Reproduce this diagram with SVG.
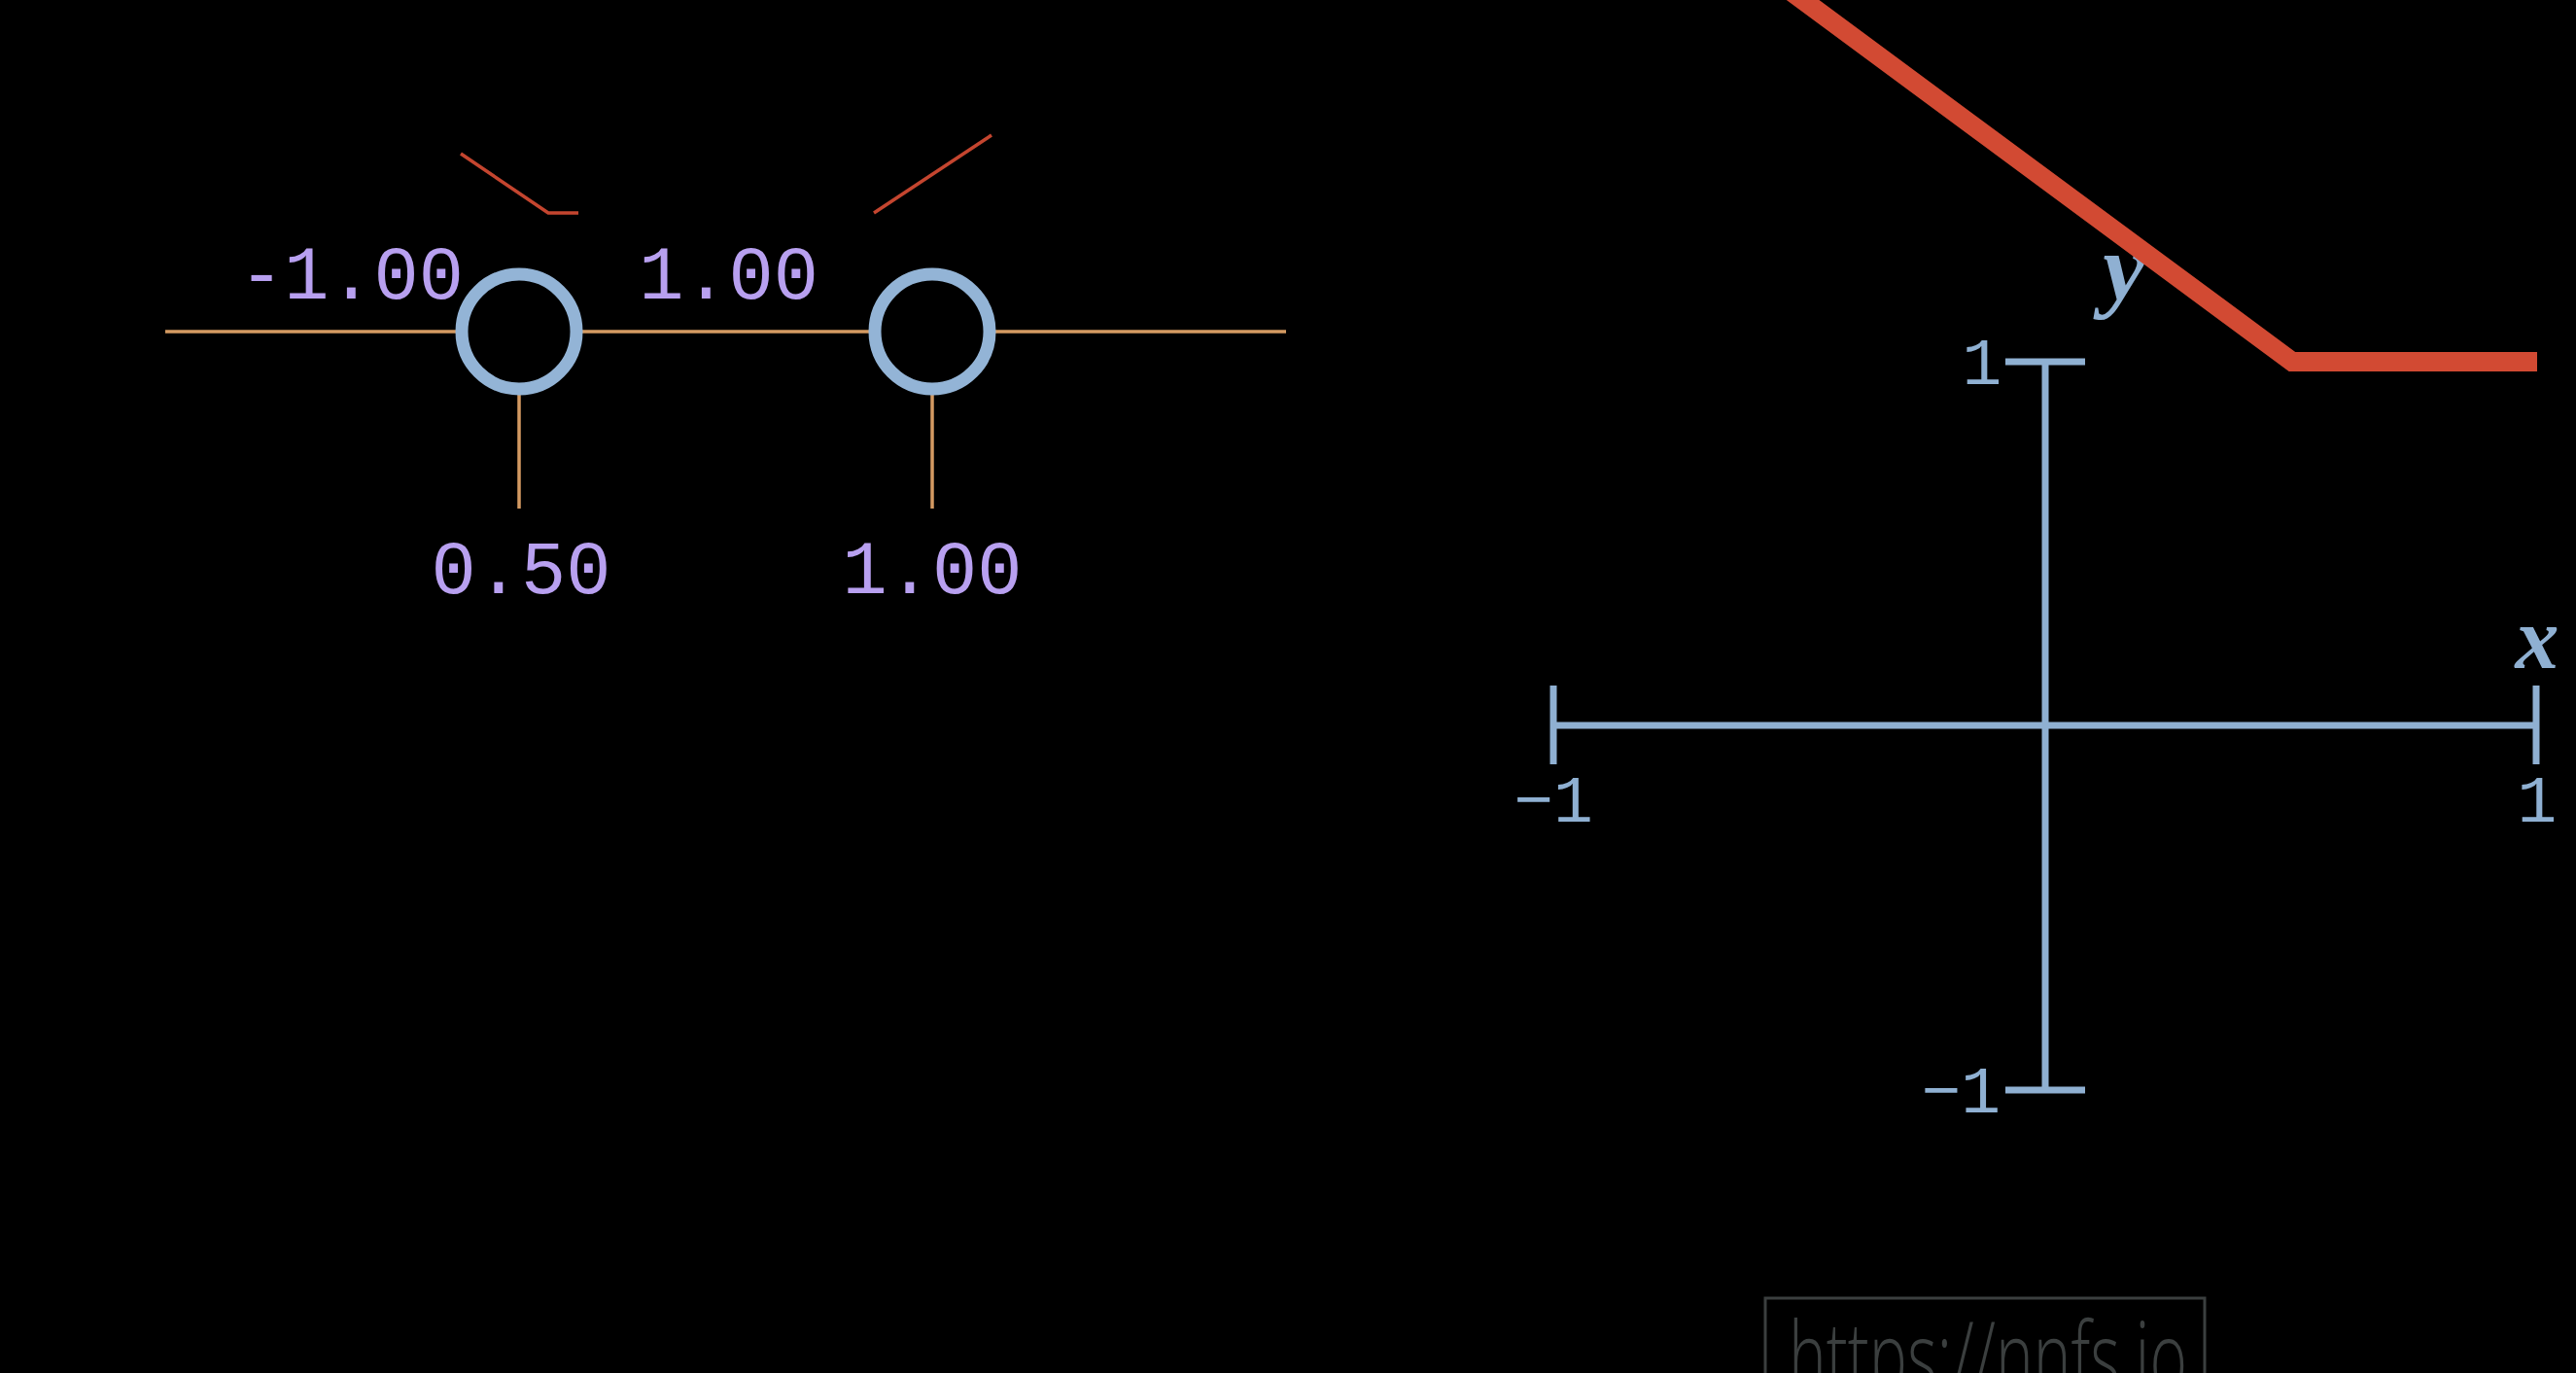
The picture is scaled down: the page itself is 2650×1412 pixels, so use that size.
<svg xmlns="http://www.w3.org/2000/svg" width="2650" height="1412" viewBox="0 0 2650 1412">
  <style>
    .wire { stroke: #d49a62; stroke-width: 3.5; fill: none; }
    .neuron { fill: #000; stroke: #93b4d6; stroke-width: 13; }
    .num { font-family: "Liberation Mono", "DejaVu Sans Mono", monospace; font-size: 77px; fill: #b8a0f0; }
    .mini { stroke: #c4452f; stroke-width: 3.5; fill: none; }
    .axis { stroke: #8fb0d2; stroke-width: 7; fill: none; }
    .tick { font-family: "Liberation Mono", "DejaVu Sans Mono", monospace; font-size: 68px; fill: #8fb0d2; }
    .var { font-family: "Liberation Serif", "DejaVu Serif", serif; font-style: italic; font-weight: bold; fill: #8fb0d2; }
  </style>
  <rect x="0" y="0" width="2650" height="1412" fill="#000"/>

  <g id="connectors">
    <line class="wire" x1="170" y1="341" x2="1323" y2="341"/>
    <line class="wire" x1="534" y1="405" x2="534" y2="523"/>
    <line class="wire" x1="959" y1="405" x2="959" y2="523"/>
  </g>

  <g id="node-1">
    <circle class="neuron" cx="534" cy="341" r="59"/>
  </g>
  <g id="node-2">
    <circle class="neuron" cx="959" cy="341" r="59"/>
  </g>

  <g id="weights">
    <text class="num" x="477" y="307" text-anchor="end">-1.00</text>
    <text class="num" x="842" y="307" text-anchor="end">1.00</text>
    <text class="num" x="536" y="610" text-anchor="middle">0.50</text>
    <text class="num" x="959" y="610" text-anchor="middle">1.00</text>
  </g>

  <g id="mini-plots">
    <polyline class="mini" points="474,158 564,219 595,219"/>
    <polyline class="mini" points="899,219 1020,139"/>
  </g>

  <g id="axes">
    <line class="axis" x1="1598" y1="746" x2="2609" y2="746"/>
    <line class="axis" x1="1598" y1="705" x2="1598" y2="786"/>
    <line class="axis" x1="2609" y1="705" x2="2609" y2="786"/>
    <line class="axis" x1="2104" y1="372" x2="2104" y2="1121"/>
    <line class="axis" x1="2063" y1="372" x2="2145" y2="372"/>
    <line class="axis" x1="2063" y1="1121" x2="2145" y2="1121"/>
    <text class="tick" x="2039" y="395" text-anchor="middle">1</text>
    <text class="tick" x="2058" y="1144" text-anchor="end">−1</text>
    <text class="tick" x="1598" y="845" text-anchor="middle">−1</text>
    <text class="tick" x="2610" y="845" text-anchor="middle">1</text>
    <text class="var" x="2610" y="687" font-size="90" text-anchor="middle">x</text>
    <text class="var" x="2185" y="308" font-size="98" text-anchor="middle">y</text>
  </g>

  <g id="curve">
    <polyline points="1814,-30 2358,372 2610,372" fill="none" stroke="#d24a33" stroke-width="20" stroke-linejoin="miter"/>
  </g>

  <g id="watermark">
    <rect x="1816" y="1335" width="452" height="120" fill="none" stroke="#3b3f3f" stroke-width="3"/>
    <text x="1840" y="1431" font-family="'Open Sans', 'Noto Sans', sans-serif" font-weight="300" font-size="100" fill="#3b3f3f" textLength="410" lengthAdjust="spacingAndGlyphs">https://nnfs.io</text>
  </g>
</svg>
